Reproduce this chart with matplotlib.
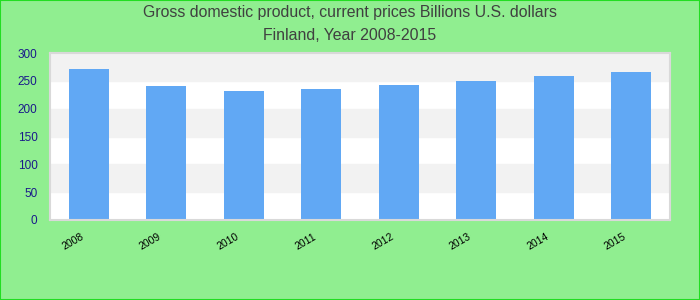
import matplotlib.pyplot as plt
from matplotlib.patches import Rectangle
from matplotlib.transforms import ScaledTranslation

years = ["2008", "2009", "2010", "2011", "2012", "2013", "2014", "2015"]
gdp = [272, 240, 232, 236, 243, 250, 259, 266]
yticks = [0, 50, 100, 150, 200, 250, 300]

plt.rcParams['font.family'] = ['Liberation Sans', 'DejaVu Sans']

fig = plt.figure(figsize=(7, 3), dpi=100, facecolor="#90ee90")
fig.patches.append(Rectangle((0, 0), 1, 1, transform=fig.transFigure,
                             fill=False, edgecolor="#22dd22", linewidth=1.5))
ax = fig.add_axes([50/700, 80/300, 620/700, 167/300])
ax.set_facecolor("white")

# alternating bands
for i in range(len(yticks) - 1):
    if i % 2 == 1:
        ax.axhspan(yticks[i], yticks[i+1], color="#f2f2f2", zorder=0)

x = range(len(years))
ax.bar(x, gdp, width=0.52, color="#61a8f4", zorder=2)
ax.set_xlim(-0.5, len(years) - 0.5)
ax.set_ylim(0, 300)
ax.set_yticks(yticks)
ax.set_xticks(list(x))
ax.set_xticklabels([])
# rotated year labels, nudged a bit left of the bar centre
trans = ax.get_xaxis_transform() + ScaledTranslation(-6/100, -16/100, fig.dpi_scale_trans)
for i, yr in enumerate(years):
    ax.text(i, 0, yr, transform=trans, rotation=30, ha="right", va="center",
            rotation_mode="anchor", fontsize=7.5)
ax.tick_params(axis="y", length=0, labelsize=8.5, labelcolor="#1a1a8a", pad=9)
ax.tick_params(axis="x", length=0)
for s in ax.spines.values():
    s.set_color("#d9d9d9")
    s.set_linewidth(1.5)

fig.text(0.5, 1 - 13/300, "Gross domestic product, current prices Billions U.S. dollars",
         ha="center", va="center", fontsize=11.4, color="#404040")
fig.text(0.5, 1 - 36/300, "Finland, Year 2008-2015",
         ha="center", va="center", fontsize=11.4, color="#404040")

fig.savefig("out.png", dpi=100, facecolor=fig.get_facecolor())
